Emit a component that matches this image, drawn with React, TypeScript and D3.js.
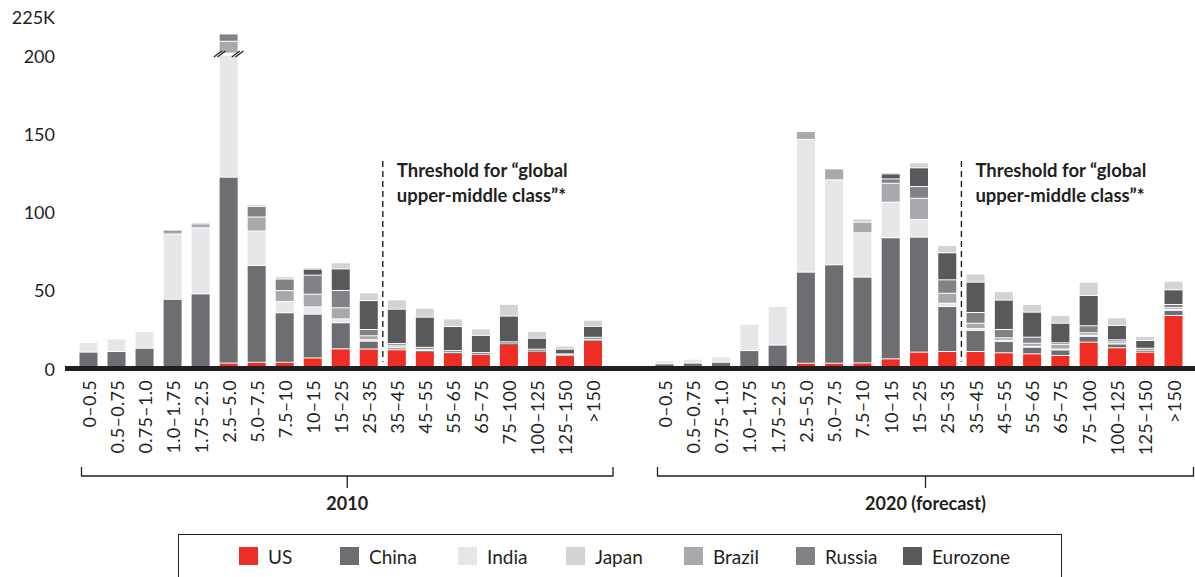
import * as d3 from 'd3';

const categories = ['0–0.5', '0.5–0.75', '0.75–1.0', '1.0–1.75', '1.75–2.5', '2.5–5.0', '5.0–7.5', '7.5–10', '10–15', '15–25', '25–35', '35–45', '45–55', '55–65', '65–75', '75–100', '100–125', '125–150', '>150'];

// 2010, thousands of households per income band
const us2010 = [0, 0, 0, 0.3, 0.3, 2.5, 3, 3, 5.8, 11.6, 11.5, 11, 10, 9, 8, 14.8, 10, 7.4, 17];
const china2010 = [9.5, 9.9, 12, 43, 46.5, 119, 62, 31.7, 28, 16.7, 5, 1.2, 0.5, 0.3, 0.3, 0.3, 0.2, 0.2, 0.3];
const india2010 = [6.3, 8, 10.7, 41.8, 42.3, 78.5, 22, 7.2, 4.7, 2.5, 1, 0.8, 1.5, 0.8, 0.5, 0.5, 0.8, 0.8, 1.2];
const brazil2010 = [0, 0, 0, 1.8, 2.5, 8.5, 9, 7, 8.1, 7.1, 2.5, 1, 0.3, 0.2, 0.2, 0.2, 0.2, 0, 0.3];
const russia2010 = [0, 0, 0, 0.5, 0, 4.7, 6.8, 7.4, 12.2, 11.1, 4, 1, 0.3, 0.2, 0.2, 0.3, 0.2, 0, 0.2];
const eurozone2010 = [0, 0, 0, 0, 0, 0, 0, 0, 3.8, 13.8, 18.5, 22, 19.3, 15.4, 11, 16.5, 7, 3, 7];
const japan2010 = [0, 0, 0, 0.5, 1, 0, 1.3, 1.5, 1.1, 3.9, 5, 6, 5.7, 4.9, 4.2, 7.5, 4.3, 2, 4];

// 2020 forecast
const us2020 = [0, 0, 0, 0, 0, 2.4, 2.4, 2.6, 5.2, 9.5, 9.9, 9.9, 9.1, 8.4, 7.4, 15.9, 12.3, 9.5, 33];
const china2020 = [2, 2.5, 3, 10.5, 14, 58.3, 63, 54.9, 77.5, 73.6, 28.8, 13.5, 7.2, 4.3, 3.6, 3.6, 2.5, 1, 3.2];
const india2020 = [2, 2.5, 3.5, 17, 24, 85, 54.4, 28.4, 22.8, 11.3, 2.1, 1.2, 0.8, 0.5, 0.5, 0.8, 0.5, 0.5, 0.8];
const brazil2020 = [0, 0, 0, 0, 0, 5, 7, 6.8, 12.1, 13.6, 6.4, 3.4, 1.6, 2, 2.9, 1.6, 0.8, 0.5, 1];
const russia2020 = [0, 0, 0, 0, 0, 0, 0, 0, 2.8, 7.5, 8.6, 6.9, 5.3, 3.9, 1.1, 4.5, 1.3, 0.5, 2];
const eurozone2020 = [0, 0, 0, 0, 0, 0, 0, 0, 3.2, 12, 17.3, 19.4, 18.8, 16, 12.5, 19.4, 9.2, 5, 9.4];
const japan2020 = [0, 0, 0, 0, 0.5, 0, 0, 2.1, 0.9, 3.2, 4.7, 5.3, 5.4, 4.9, 5, 8.5, 4.9, 2.5, 5.5];

const legendKeys = ['US', 'China', 'India', 'Japan', 'Brazil', 'Russia', 'Eurozone'];
const stackKeys = ['US', 'China', 'India', 'Brazil', 'Russia', 'Eurozone', 'Japan'];
const colors: Record<string, string> = {
  US: '#ee2e24',
  China: '#6d6e71',
  India: '#e6e7e8',
  Japan: '#d1d3d4',
  Brazil: '#a7a9ac',
  Russia: '#808285',
  Eurozone: '#58595b',
};

const tickValues = [0, 50, 100, 150, 200, 225];
const tickLabels = ['0', '50', '100', '150', '200', '225K'];
const thresholdAfter = '25–35';
const breakCategory = '2.5–5.0';
const breakValue = 200;

const W = 1195;
const H = 577;
const BAR_W = 18;
const INK = '#231f20';
const FONT = 'Lato, "Open Sans", sans-serif';
const LEGEND_X = [239, 340, 458, 566, 684, 796, 903];

const yScale = d3.scaleLinear().domain([0, 225]).range([366.5, 15]);

function rows(series: number[][]) {
  return categories.map((c, i) => {
    const r: Record<string, any> = { cat: c };
    stackKeys.forEach((k, j) => (r[k] = series[j][i]));
    return r;
  });
}

const data2010 = rows([us2010, china2010, india2010, brazil2010, russia2010, eurozone2010, japan2010]);
const data2020 = rows([us2020, china2020, india2020, brazil2020, russia2020, eurozone2020, japan2020]);

function Panel({ data, range, label, withBreak }: { data: any[]; range: [number, number]; label: string; withBreak?: boolean }) {
  const x = d3.scalePoint<string>().domain(categories).range(range);
  const stacked = d3.stack<any>().keys(stackKeys)(data);
  const i = categories.indexOf(thresholdAfter);
  const tx = ((x(categories[i]) ?? 0) + (x(categories[i + 1]) ?? 0)) / 2;
  const bx0 = range[0] - 7;
  const bx1 = range[1] + 20;
  const bmid = (bx0 + bx1) / 2;
  const bcx = x(breakCategory) ?? 0;
  const by = yScale(breakValue);

  return (
    <g>
      {stacked.map((layer) => (
        <g key={layer.key} fill={colors[layer.key]}>
          {layer.map((d: any) => {
            const v = d[1] - d[0];
            if (v <= 0) return null;
            const y1 = yScale(d[1]);
            const y0 = yScale(d[0]);
            const h = Math.max(y0 - y1 - 1, 0.8);
            return <rect key={d.data.cat} x={(x(d.data.cat) ?? 0) - BAR_W / 2} y={y1 + 1} width={BAR_W} height={h} />;
          })}
        </g>
      ))}
      {withBreak && (
        <g>
          <rect x={bcx - BAR_W / 2 - 1} y={by - 1.5} width={BAR_W + 2} height={3} fill="#fff" />
          {[bcx - BAR_W / 2, bcx + BAR_W / 2].map((cx) =>
            [-1.8, 1.8].map((o) => (
              <line key={`${cx}${o}`} x1={cx - 4 + o} y1={by + 3} x2={cx + 4 + o} y2={by - 3} stroke={INK} strokeWidth={1.2} />
            ))
          )}
        </g>
      )}
      <line x1={tx} x2={tx} y1={yScale(131.5)} y2={yScale(3)} stroke={INK} strokeWidth={1.4} strokeDasharray="6 4" />
      <text x={tx + 14} y={170} fontFamily={FONT} fontWeight={700} fontSize={18.5} fill={INK} dominantBaseline="central">
        Threshold for “global
      </text>
      <text x={tx + 14} y={195} fontFamily={FONT} fontWeight={700} fontSize={18.5} fill={INK} dominantBaseline="central">
        upper-middle class”*
      </text>
      {categories.map((c) => (
        <text
          key={c}
          transform={`translate(${x(c)},380) rotate(-90)`}
          textAnchor="end"
          dominantBaseline="central"
          fontFamily={FONT}
          fontSize={18}
          letterSpacing={0.3}
          fill={INK}
        >
          {c}
        </text>
      ))}
      <path d={`M${bx0},467V476H${bx1}V467M${bmid},476V488`} fill="none" stroke={INK} strokeWidth={1.3} />
      <text x={bmid} y={503} textAnchor="middle" dominantBaseline="central" fontFamily={FONT} fontWeight={700} fontSize={18} fill={INK}>
        {label}
      </text>
    </g>
  );
}

export default function App() {
  return (
    <svg width={W} height={H} viewBox={`0 0 ${W} ${H}`} style={{ position: 'absolute', left: 0, top: 0, background: '#fff' }}>
      {tickValues.map((t, i) => (
        <text key={t} x={55} y={yScale(t) + 2} textAnchor="end" dominantBaseline="central" fontFamily={FONT} fontSize={18} fill={INK}>
          {tickLabels[i]}
        </text>
      ))}
      <Panel data={data2010} range={[88.5, 593]} label="2010" withBreak />
      <Panel data={data2020} range={[664.5, 1173.5]} label="2020 (forecast)" />
      <line x1={65} x2={W} y1={368.5} y2={368.5} stroke={INK} strokeWidth={5} />
      <rect x={178.5} y={534.5} width={883} height={60} fill="none" stroke={INK} strokeWidth={1} />
      {legendKeys.map((k, i) => (
        <g key={k} transform={`translate(${LEGEND_X[i]},547)`}>
          <rect width={19} height={18} fill={colors[k]} />
          <text x={29} y={9} dominantBaseline="central" fontFamily={FONT} fontSize={19} fill={INK}>
            {k}
          </text>
        </g>
      ))}
    </svg>
  );
}
